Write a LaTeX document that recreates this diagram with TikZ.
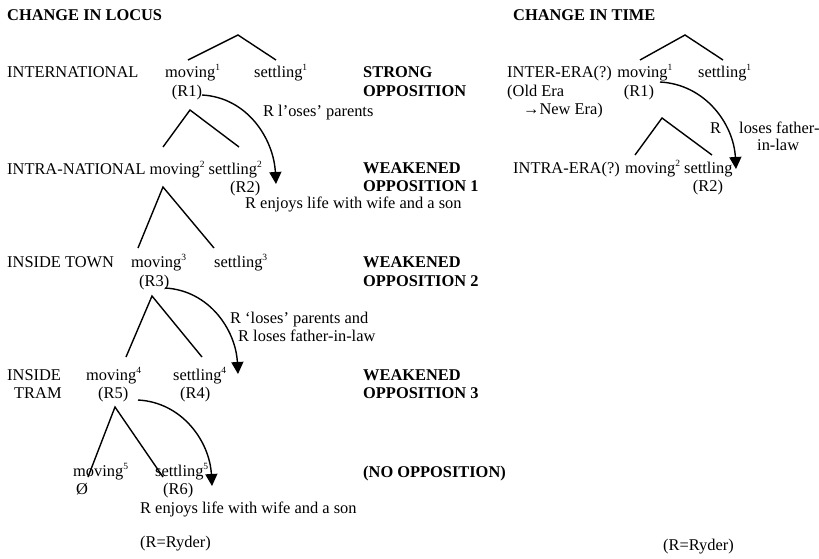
\documentclass[tikz,border=0pt]{standalone}
\usepackage{fontspec}
\setmainfont{Liberation Serif}
\usetikzlibrary{arrows.meta}
\newcommand\mainsz{\fontsize{16.4}{19}\selectfont}
\newcommand\sups[1]{\raisebox{0.42em}{\fontsize{9.5}{9.5}\selectfont #1}}
\begin{document}
\begin{tikzpicture}[x=1pt,y=-1pt,
  txt/.style={anchor=base west, inner sep=0pt, font=\mainsz},
  ctxt/.style={anchor=base, inner sep=0pt, font=\mainsz},
  bld/.style={anchor=base west, inner sep=0pt, font=\mainsz\bfseries},
  branch/.style={line width=1.4pt},
  turn/.style={line width=1.4pt, -{Triangle[length=12pt,width=12pt]}}]
\useasboundingbox (0,0) rectangle (819,558);
\fill[white] (0,0) rectangle (819,558);

% ---------- LEFT PANEL ----------
\node[bld] (h1) at (7,20) {CHANGE IN LOCUS};

% row 1
\node[txt] (intl) at (7,77) {INTERNATIONAL};
\node[txt] (mv1) at (165,77) {moving\sups{1}};
\node[txt] (st1) at (254,77) {settling\sups{1}};
\node[ctxt] (r1) at (187,96) {(R1)};
\node[bld] (op1a) at (363,77) {STRONG};
\node[bld] (op1b) at (363,96) {OPPOSITION};
\node[txt] (lab1) at (263,116) {R l’oses’ parents};

% row 2
\node[txt] (row2) at (7,174) {INTRA-NATIONAL moving\sups{2} settling\sups{2}};
\node[txt] (r2) at (230,192) {(R2)};
\node[bld] (op2a) at (363,173) {WEAKENED};
\node[bld] (op2b) at (363,191) {OPPOSITION 1};
\node[txt] (lab2) at (245,208) {R enjoys life with wife and a son};

% row 3
\node[txt] (town) at (7,267) {INSIDE TOWN};
\node[txt] (mv3) at (131,267) {moving\sups{3}};
\node[txt] (st3) at (214,267) {settling\sups{3}};
\node[txt] (r3) at (139,286) {(R3)};
\node[bld] (op3a) at (363,267) {WEAKENED};
\node[bld] (op3b) at (363,286) {OPPOSITION 2};
\node[txt] (lab3a) at (230,323) {R ‘loses’ parents and};
\node[txt] (lab3b) at (238,341) {R loses father-in-law};

% row 4
\node[txt] (ins) at (7,380) {INSIDE};
\node[txt] (tram) at (14,398) {TRAM};
\node[txt] (mv4) at (86,380) {moving\sups{4}};
\node[txt] (st4) at (173,380) {settling\sups{4}};
\node[txt] (r5) at (98,398) {(R5)};
\node[txt] (r4) at (180,398) {(R4)};
\node[bld] (op4a) at (363,380) {WEAKENED};
\node[bld] (op4b) at (363,398) {OPPOSITION 3};

% row 5
\node[txt] (mv5) at (73,476) {moving\sups{5}};
\node[txt] (st5) at (155,476) {settling\sups{5}};
\node[txt] (empty) at (76,494) {Ø};
\node[txt] (r6) at (163,494) {(R6)};
\node[bld] (op5) at (363,477) {(NO OPPOSITION)};
\node[txt] (lab5) at (140,513) {R enjoys life with wife and a son};
\node[txt] (key1) at (140,547) {(R=Ryder)};

% trees (left)
\coordinate (t1) at (238,35);  \coordinate (t1l) at (188,60);  \coordinate (t1r) at (276,60);
\coordinate (t2) at (190,110); \coordinate (t2l) at (163,147); \coordinate (t2r) at (239,147);
\coordinate (t3) at (163,187); \coordinate (t3l) at (138,248); \coordinate (t3r) at (214,248);
\coordinate (t4) at (152,296); \coordinate (t4l) at (126,357); \coordinate (t4r) at (202,357);
\coordinate (t5) at (115,407); \coordinate (t5l) at (88,477);  \coordinate (t5r) at (163,477);
\foreach \t in {t1,t2,t3,t4,t5}{
  \draw[branch] (\t l) -- (\t) -- (\t r);
}

% curved arrows (left)
\coordinate (a1s) at (202,95);  \coordinate (a1e) at (276,184);
\coordinate (a3s) at (165,288); \coordinate (a3e) at (238,374);
\coordinate (a4s) at (138,400); \coordinate (a4e) at (212,486);
\draw[turn] (a1s) to[out=-3,in=93] (a1e);
\draw[turn] (a3s) to[out=-3,in=93] (a3e);
\draw[turn] (a4s) to[out=-3,in=93] (a4e);

% ---------- RIGHT PANEL ----------
\node[bld] (h2) at (513,20) {CHANGE IN TIME};
\node[txt] (inter) at (507,77) {INTER-ERA(?) moving\sups{1}};
\node[txt] (rst1) at (698,77) {settling\sups{1}};
\node[txt] (old) at (507,96) {(Old Era};
\node[ctxt] (rr1) at (639,96) {(R1)};
\node[txt] (new) at (523,114) {→New Era)};
\node[txt] (rlab) at (710,133) {R};
\node[txt] (rlab2) at (739,133) {loses father-};
\node[txt] (rlab3) at (757,150) {in-law};
\node[txt] (intra) at (513,173) {INTRA-ERA(?) moving\sups{2} settling};
\node[ctxt] (rr2) at (708,191) {(R2)};
\node[txt] (key2) at (663,550) {(R=Ryder)};

\coordinate (u1) at (685,35);  \coordinate (u1l) at (640,60);  \coordinate (u1r) at (723,60);
\coordinate (u2) at (662,118); \coordinate (u2l) at (635,155); \coordinate (u2r) at (712,155);
\draw[branch] (u1l) -- (u1) -- (u1r);
\draw[branch] (u2l) -- (u2) -- (u2r);

\coordinate (b1s) at (660,82); \coordinate (b1e) at (736,169);
\draw[turn] (b1s) to[out=-3,in=93] (b1e);
\end{tikzpicture}
\end{document}
